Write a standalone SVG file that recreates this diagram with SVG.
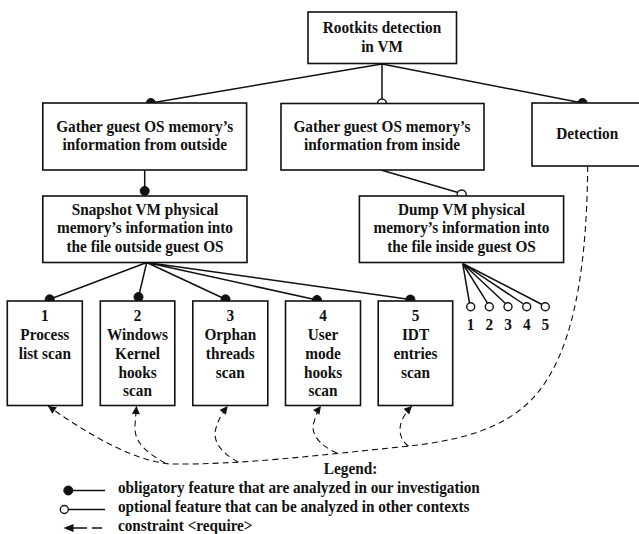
<svg xmlns="http://www.w3.org/2000/svg" width="639" height="534" viewBox="0 0 639 534">
<style>
.box{fill:#fff;stroke:#111;stroke-width:1.6}
.t{font-family:"Liberation Serif","Times New Roman",serif;font-weight:bold;font-size:17px;fill:#111;text-anchor:middle}
.tl{font-family:"Liberation Serif","Times New Roman",serif;font-weight:bold;font-size:16.9px;fill:#111}
.ln{fill:none;stroke:#111;stroke-width:1.5}
.dash{fill:none;stroke:#111;stroke-width:1.1;stroke-dasharray:6 4}
.fd{fill:#111;stroke:#111;stroke-width:1}
.op{fill:#fff;stroke:#111;stroke-width:1.4}
</style>
<defs>
<marker id="arr" viewBox="0 0 10 10" refX="10" refY="5" markerWidth="9" markerHeight="8" markerUnits="userSpaceOnUse" orient="auto">
<path d="M0,0 L10,5 L0,10 Z" fill="#111"/>
</marker>
</defs>
<rect width="639" height="534" fill="#fff"/>

<g id="connectors">
<path class="ln" d="M382,64 L150.8,103 M382,64 L382,99 M382,64 L582.5,103"/>
<path class="ln" d="M144.7,170 L144.7,191"/>
<path class="ln" d="M381,170 L458,192.5"/>
<path class="ln" d="M146.7,262.5 L49.7,299.3 M146.7,262.5 L138.5,297 M146.7,262.5 L225.5,299.3 M146.7,262.5 L317,300 M146.7,262.5 L410.4,299.5"/>
<path class="ln" d="M462.7,263.5 L469.5,303 M462.7,263.5 L487.5,303.2 M462.7,263.5 L505.5,303.5 M462.7,263.5 L523.5,304 M462.7,263.5 L542,304.5"/>
<circle class="fd" cx="150.8" cy="103" r="4.5"/>
<circle class="op" cx="382" cy="103.5" r="4.5"/>
<circle class="fd" cx="582.5" cy="103" r="4.5"/>
<circle class="fd" cx="144.7" cy="191" r="4.5"/>
<circle class="op" cx="461.7" cy="194.5" r="4.5"/>
<circle class="fd" cx="49.7" cy="299.3" r="4.5"/>
<circle class="fd" cx="138.5" cy="297" r="4.5"/>
<circle class="fd" cx="225.5" cy="299.3" r="4.5"/>
<circle class="fd" cx="317" cy="300" r="4.5"/>
<circle class="fd" cx="410.4" cy="299.5" r="4.5"/>
<circle class="op" cx="470.7" cy="306.7" r="4"/>
<circle class="op" cx="489.3" cy="306.7" r="4"/>
<circle class="op" cx="508" cy="306.7" r="4"/>
<circle class="op" cx="526.7" cy="306.7" r="4"/>
<circle class="op" cx="545.3" cy="306.7" r="4"/>
<path class="dash" marker-end="url(#arr)" d="M587.7,166 C587,250 578,330 548,378 C520,425 470,440 400,447 C320,455 240,465 170,464 C130,460 85,432 48,406"/>
<path class="dash" marker-end="url(#arr)" d="M165,463 C142,450 134,440 135,425 L136.5,406"/>
<path class="dash" marker-end="url(#arr)" d="M238,462 C220,452 212,440 216,428 C218,420 223,412 227.7,406"/>
<path class="dash" marker-end="url(#arr)" d="M337,453 C318,445 310,432 314,422 C316,415 318,410 321,406"/>
<path class="dash" marker-end="url(#arr)" d="M408.5,446 C400,440 398,430 402,420 C405,414 408,410 412,406"/>
</g>

<g id="root">
<rect class="box" x="308" y="12" width="148.5" height="51.5"/>
<g transform="translate(382,0) scale(0.9,1)">
<text class="t" x="0" y="33.5">Rootkits detection</text>
<text class="t" x="0" y="52">in VM</text>
</g>
</g>
<g id="outside">
<rect class="box" x="42.8" y="103" width="203.8" height="67"/>
<g transform="translate(144.7,0) scale(0.9,1)">
<text class="t" x="0" y="132">Gather guest OS memory’s</text>
<text class="t" x="0" y="150.5">information from outside</text>
</g>
</g>
<g id="inside">
<rect class="box" x="281" y="103.5" width="203" height="66.5"/>
<g transform="translate(382,0) scale(0.9,1)">
<text class="t" x="0" y="132">Gather guest OS memory’s</text>
<text class="t" x="0" y="150.5">information from inside</text>
</g>
</g>
<g id="detection">
<rect class="box" x="532" y="103" width="115" height="63"/>
<g transform="translate(587.2,0) scale(0.9,1)">
<text class="t" x="0" y="139.5">Detection</text>
</g>
</g>
<g id="snapshot">
<rect class="box" x="42.8" y="196" width="204.2" height="66.5"/>
<g transform="translate(145,0) scale(0.9,1)">
<text class="t" x="0" y="215">Snapshot VM physical</text>
<text class="t" x="0" y="233.5">memory’s information into</text>
<text class="t" x="0" y="252">the file outside guest OS</text>
</g>
</g>
<g id="dump">
<rect class="box" x="359.4" y="196" width="204.2" height="66.5"/>
<g transform="translate(461.5,0) scale(0.9,1)">
<text class="t" x="0" y="215">Dump VM physical</text>
<text class="t" x="0" y="233.5">memory’s information into</text>
<text class="t" x="0" y="252">the file inside guest OS</text>
</g>
</g>
<g id="scan1">
<rect class="box" x="7.3" y="301" width="75" height="104.5"/>
<g transform="translate(44.8,0) scale(0.9,1)">
<text class="t" x="0" y="321">1</text>
<text class="t" x="0" y="340">Process</text>
<text class="t" x="0" y="358.8">list scan</text>
</g>
</g>
<g id="scan2">
<rect class="box" x="100.3" y="301" width="74.5" height="104.5"/>
<g transform="translate(137.5,0) scale(0.9,1)">
<text class="t" x="0" y="321">2</text>
<text class="t" x="0" y="340">Windows</text>
<text class="t" x="0" y="358.8">Kernel</text>
<text class="t" x="0" y="377.6">hooks</text>
<text class="t" x="0" y="396.5">scan</text>
</g>
</g>
<g id="scan3">
<rect class="box" x="192.8" y="301" width="75" height="104.5"/>
<g transform="translate(230.3,0) scale(0.9,1)">
<text class="t" x="0" y="321">3</text>
<text class="t" x="0" y="340">Orphan</text>
<text class="t" x="0" y="358.8">threads</text>
<text class="t" x="0" y="377.6">scan</text>
</g>
</g>
<g id="scan4">
<rect class="box" x="285.5" y="301" width="75" height="104.5"/>
<g transform="translate(323,0) scale(0.9,1)">
<text class="t" x="0" y="321">4</text>
<text class="t" x="0" y="340">User</text>
<text class="t" x="0" y="358.8">mode</text>
<text class="t" x="0" y="377.6">hooks</text>
<text class="t" x="0" y="396.5">scan</text>
</g>
</g>
<g id="scan5">
<rect class="box" x="378.2" y="301" width="74.5" height="104.5"/>
<g transform="translate(415.5,0) scale(0.9,1)">
<text class="t" x="0" y="321">5</text>
<text class="t" x="0" y="340">IDT</text>
<text class="t" x="0" y="358.8">entries</text>
<text class="t" x="0" y="377.6">scan</text>
</g>
</g>
<g id="inside-options">
<text class="t" x="470.7" y="330" transform="translate(47.07,0) scale(0.9,1)">1</text>
<text class="t" x="489.3" y="330" transform="translate(48.93,0) scale(0.9,1)">2</text>
<text class="t" x="508" y="330" transform="translate(50.8,0) scale(0.9,1)">3</text>
<text class="t" x="526.7" y="330" transform="translate(52.67,0) scale(0.9,1)">4</text>
<text class="t" x="545.3" y="330" transform="translate(54.53,0) scale(0.9,1)">5</text>
</g>

<g id="legend">
<g transform="translate(350.5,0) scale(0.9,1)">
<text class="t" x="0" y="474">Legend:</text>
</g>
<circle class="fd" cx="68.3" cy="490.5" r="4.5"/>
<path class="ln" d="M68.3,490.5 H105"/>
<path class="ln" d="M68.3,509.5 H105"/>
<circle class="op" cx="64.3" cy="509.5" r="4"/>
<path d="M63.5,528 L73.5,524 L73.5,532 Z" fill="#111"/>
<path class="ln" d="M73,528 H87 M92,528 H102"/>
<g transform="translate(118,0) scale(0.9,1)">
<text class="tl" x="0" y="493.5">obligatory feature that are analyzed in our investigation</text>
<text class="tl" x="0" y="512.5">optional feature that can be analyzed in other contexts</text>
<text class="tl" x="0" y="531">constraint &lt;require&gt;</text>
</g>
</g>
</svg>
